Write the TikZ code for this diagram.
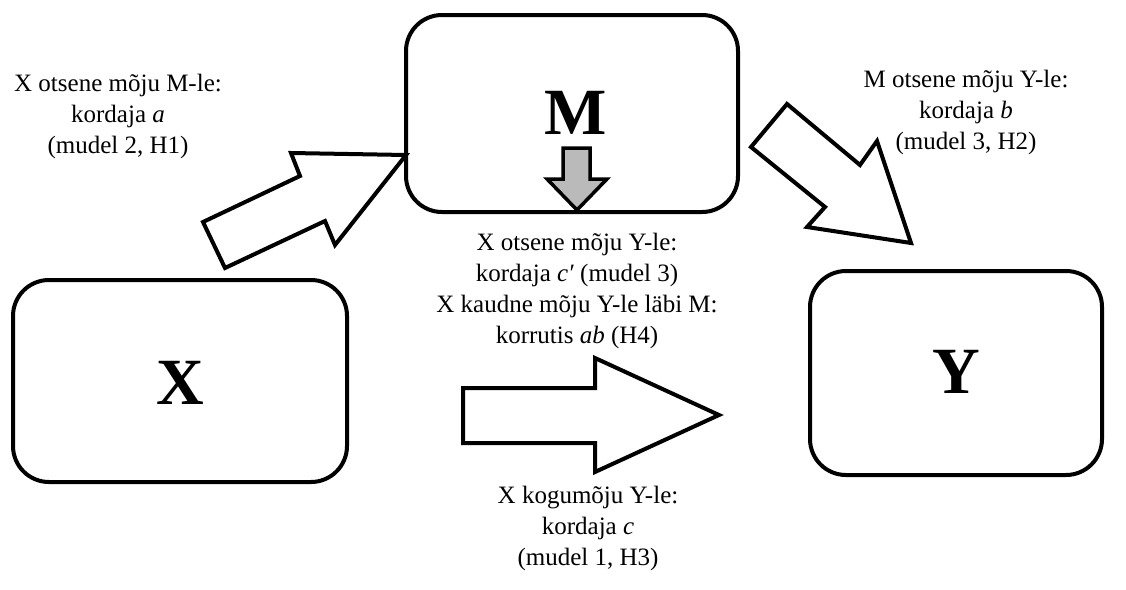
\documentclass[tikz,border=0pt]{standalone}
\usepackage{fontspec}
\setmainfont{Liberation Serif}
\begin{document}
\begin{tikzpicture}[x=1pt,y=-1pt,
  box/.style={draw=black,line width=4pt,rounded corners=36pt},
  blockarrow/.style={draw=black,fill=white,line width=4pt,line join=miter},
  lbl/.style={align=center,font=\fontsize{25}{31}\selectfont,inner sep=0pt},
  big/.style={font=\fontsize{66}{70}\selectfont\bfseries,inner sep=0pt}]
\useasboundingbox (0,0) rectangle (1126,589);
\fill[white] (0,0) rectangle (1126,589);
% boxes
\draw[box] (13,280) rectangle (347,482);
\draw[box] (406,15) rectangle (738,212);
\draw[box] (810,271) rectangle (1102,475);
\node[big] (X) at (180,383) {X};
\node[big] (M) at (576,113) {M};
\node[big] (Y) at (956,372) {Y};
% block arrows
\draw[blockarrow] (225,268) -- (203,222) -- (300,176) -- (291,153) -- (406,155) -- (335,245) -- (325,221) -- cycle;
\draw[blockarrow] (751,147) -- (787,104) -- (860,165) -- (877,141) -- (911,243) -- (807,227) -- (825,207) -- cycle;
\draw[blockarrow] (463,388) -- (595,388) -- (595,358) -- (719,415) -- (595,472) -- (595,443) -- (463,443) -- cycle;
\draw[draw=black,fill=black!27,line width=3.5pt,line join=miter] (563,148) -- (590,148) -- (590,179) -- (607,179) -- (577,210) -- (547,179) -- (563,179) -- cycle;
% labels
\node[lbl] (la) at (118,116) {X otsene mõju M-le:\\kordaja \textit{a}\\(mudel 2, H1)};
\node[lbl] (lb) at (966,112) {M otsene mõju Y-le:\\kordaja \textit{b}\\(mudel 3, H2)};
\node[lbl] (lc) at (577,291) {X otsene mõju Y-le:\\kordaja \textit{c′} (mudel 3)\\X kaudne mõju Y-le läbi M:\\korrutis \textit{ab} (H4)};
\node[lbl] (ld) at (588,528) {X kogumõju Y-le:\\kordaja \textit{c}\\(mudel 1, H3)};
\end{tikzpicture}
\end{document}
